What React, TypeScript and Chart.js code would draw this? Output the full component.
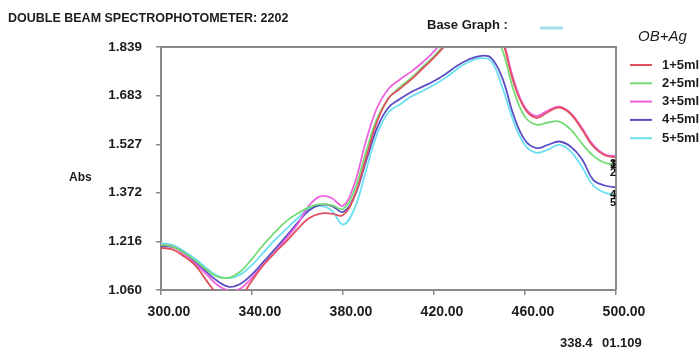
import React, { useEffect, useRef } from "react";
import { Chart, registerables } from "chart.js";

Chart.register(...registerables);

const wavelengths = [300, 305, 310, 315, 320, 325, 330, 335, 340, 345, 350, 355, 360, 365, 370, 375, 380, 385, 390, 395, 400, 405, 410, 415, 420, 425, 430, 435, 440, 445, 450, 455, 460, 465, 470, 475, 480, 485, 490, 495, 500];

const series1 = [1.195, 1.19, 1.168, 1.14, 1.09, 1.045, 1.02, 1.04, 1.09, 1.14, 1.18, 1.215, 1.255, 1.29, 1.305, 1.305, 1.3, 1.36, 1.48, 1.6, 1.675, 1.705, 1.735, 1.77, 1.805, 1.845, 1.89, 1.93, 1.95, 1.93, 1.86, 1.725, 1.64, 1.612, 1.63, 1.645, 1.625, 1.575, 1.52, 1.492, 1.485];
const series2 = [1.205, 1.2, 1.18, 1.155, 1.125, 1.102, 1.1, 1.12, 1.16, 1.205, 1.245, 1.28, 1.305, 1.325, 1.335, 1.332, 1.32, 1.38, 1.5, 1.61, 1.675, 1.71, 1.74, 1.775, 1.81, 1.85, 1.89, 1.92, 1.93, 1.9, 1.83, 1.7, 1.615, 1.59, 1.597, 1.6, 1.575, 1.53, 1.49, 1.468, 1.462];
const series3 = [1.205, 1.2, 1.175, 1.145, 1.11, 1.075, 1.058, 1.065, 1.1, 1.14, 1.18, 1.225, 1.27, 1.33, 1.36, 1.355, 1.33, 1.4, 1.535, 1.645, 1.705, 1.735, 1.76, 1.79, 1.825, 1.87, 1.91, 1.95, 1.97, 1.95, 1.87, 1.735, 1.645, 1.618, 1.635, 1.648, 1.628, 1.58, 1.525, 1.495, 1.49];
const series4 = [1.2, 1.198, 1.18, 1.15, 1.118, 1.088, 1.07, 1.08, 1.11, 1.15, 1.19, 1.232, 1.275, 1.315, 1.333, 1.33, 1.31, 1.36, 1.47, 1.58, 1.645, 1.672, 1.695, 1.712, 1.73, 1.752, 1.778, 1.798, 1.81, 1.805, 1.74, 1.62, 1.54, 1.515, 1.525, 1.536, 1.52, 1.48, 1.413, 1.395, 1.389];
const series5 = [1.21, 1.205, 1.185, 1.16, 1.13, 1.105, 1.098, 1.11, 1.14, 1.18, 1.22, 1.255, 1.29, 1.32, 1.33, 1.315, 1.27, 1.32, 1.44, 1.56, 1.63, 1.655, 1.68, 1.698, 1.718, 1.74, 1.768, 1.79, 1.803, 1.795, 1.71, 1.6, 1.525, 1.5, 1.51, 1.525, 1.505, 1.455, 1.395, 1.372, 1.365];

const seriesNames = ["1+5ml", "2+5ml", "3+5ml", "4+5ml", "5+5ml"];
const seriesValues = [series1, series2, series3, series4, series5];
const seriesColors = ["#e0505e", "#74dc74", "#ee62de", "#5a4ec4", "#6cdff2"];

const yTicks = [1.06, 1.216, 1.372, 1.527, 1.683, 1.839];
const xTicks = [300, 340, 380, 420, 460, 500];

const titleText = "DOUBLE BEAM SPECTROPHOTOMETER: 2202";
const baseGraphText = "Base Graph :";
const legendTitle = "OB+Ag";
const yAxisTitle = "Abs";
const footerLeft = "338.4";
const footerRight = "01.109";

const textColor = "#1c1c1c";
const frameColor = "#8a8a8a";
const fontFamily = "'Liberation Sans', Arial, sans-serif";

const overlayPlugin = {
  id: "overlay",
  afterDatasetsDraw(chart: any) {
    const { ctx, chartArea } = chart;
    ctx.save();
    ctx.strokeStyle = frameColor;
    ctx.lineWidth = 2;
    ctx.beginPath();
    ctx.moveTo(chartArea.left, chartArea.top);
    ctx.lineTo(chartArea.right, chartArea.top);
    ctx.lineTo(chartArea.right, chartArea.bottom);
    ctx.stroke();
    const xs = chart.scales.x;
    const ys = chart.scales.y;
    ctx.fillStyle = "#111";
    ctx.font = `bold 11px ${fontFamily}`;
    ctx.textAlign = "right";
    ctx.textBaseline = "middle";
    seriesValues.forEach((vals, i) => {
      const last = vals[vals.length - 1];
      const px = xs.getPixelForValue(wavelengths[wavelengths.length - 1]);
      const py = ys.getPixelForValue(last) + 8;
      ctx.fillText(String(i + 1), px, py);
    });
    ctx.restore();
  },
  afterDraw(chart: any) {
    const { ctx } = chart;
    ctx.save();
    ctx.fillStyle = textColor;
    ctx.textBaseline = "middle";
    ctx.textAlign = "left";
    ctx.font = `bold 12.5px ${fontFamily}`;
    ctx.fillText(titleText, 8, 19);
    ctx.font = `bold 13px ${fontFamily}`;
    ctx.fillText(baseGraphText, 427, 25);
    ctx.strokeStyle = "#a0dde8";
    ctx.lineWidth = 3;
    ctx.beginPath();
    ctx.moveTo(540, 28);
    ctx.lineTo(563, 28);
    ctx.stroke();
    ctx.font = `italic 15px ${fontFamily}`;
    ctx.fillText(legendTitle, 638, 37);
    ctx.font = `bold 13px ${fontFamily}`;
    seriesNames.forEach((name, i) => {
      const y = 65 + i * 18.3;
      ctx.strokeStyle = seriesColors[i];
      ctx.lineWidth = 2;
      ctx.beginPath();
      ctx.moveTo(630, y);
      ctx.lineTo(652, y);
      ctx.stroke();
      ctx.fillText(name, 662, y);
    });
    ctx.font = `bold 12px ${fontFamily}`;
    ctx.fillText(yAxisTitle, 69, 178);
    ctx.font = `bold 13px ${fontFamily}`;
    ctx.fillText(footerLeft, 560, 343);
    ctx.fillText(footerRight, 602, 343);
    ctx.restore();
  },
};

export default function App() {
  const canvasRef = useRef<HTMLCanvasElement | null>(null);

  useEffect(() => {
    const canvas = canvasRef.current;
    if (!canvas) return;
    const chart = new Chart(canvas, {
      type: "line",
      data: {
        datasets: seriesValues.map((vals, i) => ({
          label: seriesNames[i],
          data: vals.map((v, j) => ({ x: wavelengths[j], y: v })),
          borderColor: seriesColors[i],
          backgroundColor: seriesColors[i],
          borderWidth: 1.8,
          pointRadius: 0,
          tension: 0.4,
          fill: false,
        })),
      },
      options: {
        animation: false,
        responsive: false,
        maintainAspectRatio: false,
        layout: { padding: { top: 47, right: 83, left: 0, bottom: 0 } },
        plugins: { legend: { display: false }, tooltip: { enabled: false }, title: { display: false } },
        scales: {
          x: {
            type: "linear",
            min: 300,
            max: 500,
            afterBuildTicks: (scale: any) => {
              scale.ticks = xTicks.map((v) => ({ value: v }));
            },
            afterFit: (scale: any) => {
              scale.height = 61;
            },
            ticks: {
              callback: (v: any) => Number(v).toFixed(2),
              font: { family: fontFamily, size: 14, weight: "bold" },
              color: textColor,
              padding: 9,
              labelOffset: 8,
              maxRotation: 0,
              autoSkip: false,
            },
            grid: { drawOnChartArea: false, drawTicks: true, tickLength: 5, color: frameColor, lineWidth: 1.5 },
            border: { display: true, color: frameColor, width: 2 },
          },
          y: {
            type: "linear",
            min: 1.06,
            max: 1.839,
            afterBuildTicks: (scale: any) => {
              scale.ticks = yTicks.map((v) => ({ value: v }));
            },
            afterFit: (scale: any) => {
              scale.width = 161;
            },
            ticks: {
              callback: (v: any) => Number(v).toFixed(3),
              font: { family: fontFamily, size: 13.5, weight: "bold" },
              color: textColor,
              padding: 14,
              autoSkip: false,
            },
            grid: { drawOnChartArea: false, drawTicks: true, tickLength: 5, color: frameColor, lineWidth: 1.5 },
            border: { display: true, color: frameColor, width: 2 },
          },
        },
      },
      plugins: [overlayPlugin],
    });
    return () => chart.destroy();
  }, []);

  return (
    <div style={{ position: "fixed", left: 0, top: 0, width: 699, height: 351, background: "#ffffff" }}>
      <canvas ref={canvasRef} width={699} height={351} style={{ width: 699, height: 351, display: "block" }} />
    </div>
  );
}
